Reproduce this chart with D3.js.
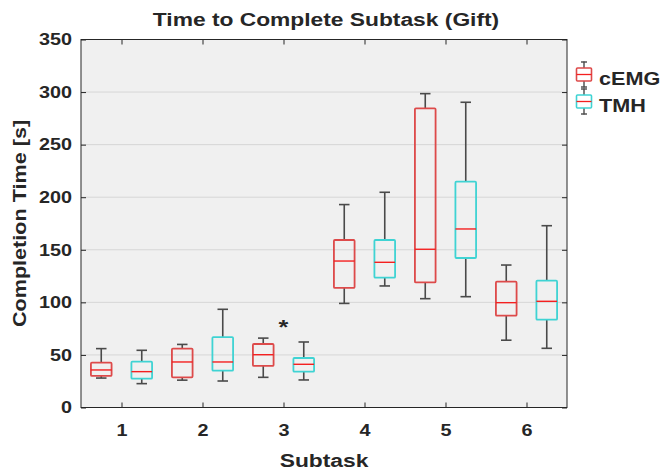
<!DOCTYPE html>
<html>
<head>
<meta charset="utf-8">
<script src="https://cdn.jsdelivr.net/npm/d3@7"></script>
<style>
  html, body { margin: 0; padding: 0; background: #ffffff; }
  svg { display: block; }
  text { font-family: "Liberation Sans", Arial, sans-serif; font-weight: bold; fill: #262626; }
</style>
</head>
<body>
<svg id="chart" width="663" height="470"></svg>
<script>
// ---------------- data ----------------
const subtasks = [1, 2, 3, 4, 5, 6];
const seriesNames = ["cEMG", "TMH"];
// [lower whisker, Q1, median, Q3, upper whisker] per subtask
const cEMG = [
  [28, 30, 35.7, 42.6, 56],
  [26, 28.7, 43.3, 56, 60],
  [28.7, 39.5, 50.2, 60.4, 66],
  [99, 113.7, 139.3, 159.3, 193],
  [103.5, 119, 150.5, 284.5, 298.5],
  [64, 87.3, 99.7, 119.7, 135.5]
];
const TMH = [
  [22.7, 27.4, 34.1, 43.6, 54.4],
  [25.2, 35, 43.3, 67, 93.4],
  [26.2, 34.1, 41.1, 47.1, 62.3],
  [115.6, 123.5, 138.1, 159.3, 204.7],
  [105.4, 142.2, 169.8, 214.8, 290.3],
  [56.3, 83.5, 101, 120.6, 172.9]
];
const yTicks = [0, 50, 100, 150, 200, 250, 300, 350];
const annotations = [{ subtask: 3, value: 82, label: "*" }];
const titleText = "Time to Complete Subtask (Gift)";
const xLabel = "Subtask";
const yLabel = "Completion Time [s]";

// ---------------- layout ----------------
const svg = d3.select("#chart");
const L = 81, R = 567, T = 39.5, B = 407.5;
const SX = 1.2; // horizontal text stretch
const x = d3.scaleLinear().domain([0.5, 6.5]).range([L, R]);
const y = d3.scaleLinear().domain([0, 350]).range([B, T]);
const offsets = { cEMG: -0.25, TMH: 0.25 };
const boxW = 0.255;   // in subtask units
const capW = 0.13;
const colors = { cEMG: "#dd4a4a", TMH: "#3fd3d3" };
const medianColor = "#f42020";
const whiskerColor = "#4a4a4a";
const axisColor = "#262626";

// background
svg.append("rect").attr("x", L).attr("y", T).attr("width", R - L).attr("height", B - T)
  .attr("fill", "#f0f0f0");

// grid
svg.append("g").selectAll("line").data(yTicks.filter(d => d > 0 && d < 350)).join("line")
  .attr("x1", L).attr("x2", R).attr("y1", d => y(d)).attr("y2", d => y(d))
  .attr("stroke", "#d6d6d6").attr("stroke-width", 1);

// axes
function stretchTexts(g) {
  g.selectAll("text").each(function () {
    const t = d3.select(this);
    const xv = +t.attr("x") || 0;
    t.attr("x", xv / SX).attr("transform", `scale(${SX},1)`);
  });
}
const xAxis = d3.axisBottom(x).tickValues(subtasks).tickFormat(d3.format("d"))
  .tickSizeInner(-5).tickSizeOuter(0).tickPadding(17);
const gx = svg.append("g").attr("transform", `translate(0,${B})`).call(xAxis);
const yAxis = d3.axisLeft(y).tickValues(yTicks).tickSizeInner(-5).tickSizeOuter(0).tickPadding(9);
const gy = svg.append("g").attr("transform", `translate(${L},0)`).call(yAxis);
const gxTop = svg.append("g").attr("transform", `translate(0,${T})`)
  .call(d3.axisTop(x).tickValues(subtasks).tickSizeInner(-5).tickSizeOuter(0).tickFormat(""));
const gyRight = svg.append("g").attr("transform", `translate(${R},0)`)
  .call(d3.axisRight(y).tickValues(yTicks).tickSizeInner(-5).tickSizeOuter(0).tickFormat(""));
[gx, gy, gxTop, gyRight].forEach(g => {
  g.select(".domain").remove();
  g.selectAll("line").attr("stroke", axisColor);
});
[gx, gy].forEach(g => {
  g.selectAll("text").attr("font-size", 16.5).attr("fill", axisColor)
    .attr("font-family", "'Liberation Sans', Arial, sans-serif").attr("font-weight", "bold");
  stretchTexts(g);
});
// frame
svg.append("rect").attr("x", L).attr("y", T).attr("width", R - L).attr("height", B - T)
  .attr("fill", "none").attr("stroke", axisColor).attr("stroke-width", 1);

// boxes
function drawSeries(name, stats) {
  const g = svg.append("g").attr("class", "series-" + name);
  const items = stats.map((s, i) => ({ sub: subtasks[i], s }));
  const grp = g.selectAll("g").data(items).join("g");
  const cx = d => x(d.sub + offsets[name]);
  const half = (x(1 + boxW) - x(1)) / 2;
  const capHalf = (x(1 + capW) - x(1)) / 2;
  // whiskers
  grp.append("line").attr("x1", cx).attr("x2", cx)
    .attr("y1", d => y(d.s[3])).attr("y2", d => y(d.s[4]))
    .attr("stroke", whiskerColor).attr("stroke-width", 1.6);
  grp.append("line").attr("x1", cx).attr("x2", cx)
    .attr("y1", d => y(d.s[1])).attr("y2", d => y(d.s[0]))
    .attr("stroke", whiskerColor).attr("stroke-width", 1.6);
  // caps
  [0, 4].forEach(k => {
    grp.append("line").attr("x1", d => cx(d) - capHalf).attr("x2", d => cx(d) + capHalf)
      .attr("y1", d => y(d.s[k])).attr("y2", d => y(d.s[k]))
      .attr("stroke", whiskerColor).attr("stroke-width", 1.6);
  });
  // box
  grp.append("rect").attr("x", d => cx(d) - half).attr("width", 2 * half)
    .attr("y", d => y(d.s[3])).attr("height", d => y(d.s[1]) - y(d.s[3]))
    .attr("rx", 1).attr("fill", "none").attr("stroke", colors[name]).attr("stroke-width", 1.8);
  // median
  grp.append("line").attr("x1", d => cx(d) - half).attr("x2", d => cx(d) + half)
    .attr("y1", d => y(d.s[2])).attr("y2", d => y(d.s[2]))
    .attr("stroke", medianColor).attr("stroke-width", 1.4);
}
drawSeries("cEMG", cEMG);
drawSeries("TMH", TMH);

// annotation
svg.append("g").selectAll("text").data(annotations).join("text")
  .attr("transform", d => `translate(${x(d.subtask)},${y(d.value)}) scale(${SX},1)`)
  .attr("text-anchor", "middle").attr("dy", "0.62em").attr("font-size", 21)
  .attr("fill", "#000").text(d => d.label);

// title and axis labels
svg.append("text").attr("transform", `translate(${(L + R) / 2 + 2},25.5) scale(${SX},1)`)
  .attr("text-anchor", "middle").attr("font-size", 19).attr("fill", "#000").text(titleText);
svg.append("text").attr("transform", `translate(${(L + R) / 2},467) scale(${SX},1)`)
  .attr("text-anchor", "middle").attr("font-size", 19).attr("fill", axisColor).text(xLabel);
svg.append("text").attr("transform", `translate(26,${(T + B) / 2}) rotate(-90) scale(${SX},1)`)
  .attr("text-anchor", "middle").attr("font-size", 18).attr("fill", axisColor).text(yLabel);

// legend
const legend = svg.append("g").attr("transform", "translate(584,0)");
const legItems = legend.selectAll("g").data(seriesNames).join("g")
  .attr("transform", (d, i) => `translate(0,${74.5 + i * 27})`);
legItems.append("line").attr("x1", 0).attr("x2", 0).attr("y1", -13).attr("y2", 13)
  .attr("stroke", whiskerColor).attr("stroke-width", 1.4);
legItems.append("line").attr("x1", -3).attr("x2", 3).attr("y1", -12.5).attr("y2", -12.5)
  .attr("stroke", whiskerColor).attr("stroke-width", 1.4);
legItems.append("line").attr("x1", -3).attr("x2", 3).attr("y1", 12.5).attr("y2", 12.5)
  .attr("stroke", whiskerColor).attr("stroke-width", 1.4);
legItems.append("rect").attr("x", -7.5).attr("y", -6.5).attr("width", 15).attr("height", 13)
  .attr("rx", 1).attr("fill", "#ffffff").attr("stroke", d => colors[d]).attr("stroke-width", 1.6);
legItems.append("line").attr("x1", -7.5).attr("x2", 7.5).attr("y1", 0).attr("y2", 0)
  .attr("stroke", medianColor).attr("stroke-width", 1.3);
legItems.append("text").attr("transform", `translate(15,10) scale(${SX},1)`)
  .attr("font-size", 18).attr("fill", "#000").text(d => d);
</script>
</body>
</html>
